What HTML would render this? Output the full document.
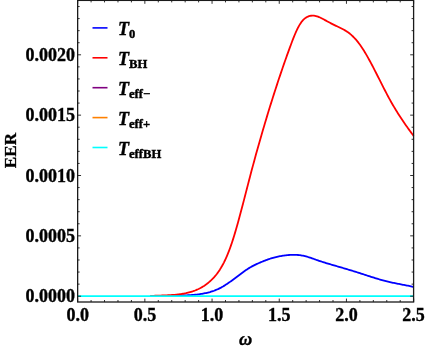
<!DOCTYPE html>
<html><head><meta charset="utf-8"><style>
html,body{margin:0;padding:0;background:#fff;}
svg{display:block;will-change:transform;font-family:"Liberation Serif",serif;font-weight:bold;}
</style></head><body>
<svg width="426" height="350" viewBox="0 0 426 350">
<rect width="426" height="350" fill="#fff"/>
<path d="M165.0,296.05 L166.0,295.99 L167.0,295.94 L168.0,295.90 L169.0,295.86 L170.0,295.82 L171.0,295.78 L172.0,295.75 L173.0,295.72 L174.0,295.70 L175.0,295.67 L176.0,295.65 L177.0,295.62 L178.0,295.60 L179.0,295.57 L180.0,295.55 L181.0,295.52 L182.0,295.49 L183.0,295.46 L184.0,295.43 L185.0,295.39 L186.0,295.35 L187.0,295.30 L188.0,295.25 L189.0,295.20 L190.0,295.14 L191.0,295.07 L192.0,295.00 L193.0,294.92 L194.0,294.83 L195.0,294.74 L196.0,294.63 L197.0,294.52 L198.0,294.40 L199.0,294.27 L200.0,294.12 L201.0,293.97 L202.0,293.81 L203.0,293.63 L204.0,293.44 L205.0,293.24 L206.0,293.03 L207.0,292.80 L208.0,292.56 L209.0,292.30 L210.0,292.03 L211.0,291.73 L212.0,291.42 L213.0,291.09 L214.0,290.74 L215.0,290.36 L216.0,289.96 L217.0,289.54 L218.0,289.10 L219.0,288.62 L220.0,288.12 L221.0,287.60 L222.0,287.04 L223.0,286.47 L224.0,285.87 L225.0,285.24 L226.0,284.60 L227.0,283.94 L228.0,283.26 L229.0,282.57 L230.0,281.86 L231.0,281.15 L232.0,280.42 L233.0,279.68 L234.0,278.93 L235.0,278.18 L236.0,277.43 L237.0,276.67 L238.0,275.91 L239.0,275.16 L240.0,274.41 L241.0,273.66 L242.0,272.92 L243.0,272.19 L244.0,271.48 L245.0,270.77 L246.0,270.09 L247.0,269.41 L248.0,268.76 L249.0,268.13 L250.0,267.53 L251.0,266.95 L252.0,266.39 L253.0,265.85 L254.0,265.34 L255.0,264.84 L256.0,264.36 L257.0,263.90 L258.0,263.45 L259.0,263.01 L260.0,262.59 L261.0,262.17 L262.0,261.76 L263.0,261.36 L264.0,260.96 L265.0,260.57 L266.0,260.19 L267.0,259.82 L268.0,259.45 L269.0,259.10 L270.0,258.77 L271.0,258.44 L272.0,258.13 L273.0,257.83 L274.0,257.55 L275.0,257.29 L276.0,257.04 L277.0,256.81 L278.0,256.59 L279.0,256.39 L280.0,256.20 L281.0,256.02 L282.0,255.85 L283.0,255.70 L284.0,255.56 L285.0,255.43 L286.0,255.31 L287.0,255.20 L288.0,255.10 L289.0,255.01 L290.0,254.93 L291.0,254.87 L292.0,254.83 L293.0,254.80 L294.0,254.80 L295.0,254.81 L296.0,254.85 L297.0,254.90 L298.0,254.99 L299.0,255.09 L300.0,255.22 L301.0,255.37 L302.0,255.54 L303.0,255.73 L304.0,255.94 L305.0,256.18 L306.0,256.43 L307.0,256.71 L308.0,257.00 L309.0,257.31 L310.0,257.63 L311.0,257.97 L312.0,258.31 L313.0,258.66 L314.0,259.01 L315.0,259.37 L316.0,259.73 L317.0,260.08 L318.0,260.43 L319.0,260.78 L320.0,261.11 L321.0,261.44 L322.0,261.77 L323.0,262.09 L324.0,262.40 L325.0,262.71 L326.0,263.02 L327.0,263.32 L328.0,263.62 L329.0,263.92 L330.0,264.21 L331.0,264.51 L332.0,264.80 L333.0,265.09 L334.0,265.38 L335.0,265.67 L336.0,265.96 L337.0,266.25 L338.0,266.54 L339.0,266.83 L340.0,267.13 L341.0,267.42 L342.0,267.71 L343.0,268.01 L344.0,268.30 L345.0,268.60 L346.0,268.90 L347.0,269.20 L348.0,269.50 L349.0,269.80 L350.0,270.10 L351.0,270.40 L352.0,270.71 L353.0,271.01 L354.0,271.32 L355.0,271.63 L356.0,271.94 L357.0,272.26 L358.0,272.57 L359.0,272.89 L360.0,273.21 L361.0,273.53 L362.0,273.85 L363.0,274.18 L364.0,274.50 L365.0,274.83 L366.0,275.15 L367.0,275.48 L368.0,275.81 L369.0,276.13 L370.0,276.45 L371.0,276.78 L372.0,277.10 L373.0,277.41 L374.0,277.73 L375.0,278.04 L376.0,278.35 L377.0,278.65 L378.0,278.95 L379.0,279.25 L380.0,279.54 L381.0,279.82 L382.0,280.10 L383.0,280.37 L384.0,280.64 L385.0,280.90 L386.0,281.15 L387.0,281.40 L388.0,281.64 L389.0,281.88 L390.0,282.10 L391.0,282.33 L392.0,282.55 L393.0,282.76 L394.0,282.97 L395.0,283.18 L396.0,283.38 L397.0,283.58 L398.0,283.78 L399.0,283.98 L400.0,284.18 L401.0,284.37 L402.0,284.57 L403.0,284.76 L404.0,284.95 L405.0,285.15 L406.0,285.34 L407.0,285.54 L408.0,285.74 L409.0,285.94 L410.0,286.14 L411.0,286.35 L412.0,286.56 L413.0,286.77 L413.6,286.90" fill="none" stroke="#0000ff" stroke-width="1.8" stroke-linejoin="round"/>
<path d="M150.0,296.09 L151.0,296.01 L152.0,295.94 L153.0,295.88 L154.0,295.83 L155.0,295.77 L156.0,295.73 L157.0,295.68 L158.0,295.64 L159.0,295.60 L160.0,295.56 L161.0,295.53 L162.0,295.49 L163.0,295.46 L164.0,295.42 L165.0,295.38 L166.0,295.34 L167.0,295.30 L168.0,295.25 L169.0,295.20 L170.0,295.15 L171.0,295.09 L172.0,295.02 L173.0,294.95 L174.0,294.87 L175.0,294.79 L176.0,294.69 L177.0,294.59 L178.0,294.48 L179.0,294.35 L180.0,294.22 L181.0,294.08 L182.0,293.92 L183.0,293.75 L184.0,293.57 L185.0,293.37 L186.0,293.17 L187.0,292.94 L188.0,292.70 L189.0,292.44 L190.0,292.17 L191.0,291.88 L192.0,291.57 L193.0,291.24 L194.0,290.89 L195.0,290.52 L196.0,290.12 L197.0,289.69 L198.0,289.25 L199.0,288.77 L200.0,288.26 L201.0,287.72 L202.0,287.16 L203.0,286.55 L204.0,285.92 L205.0,285.25 L206.0,284.54 L207.0,283.79 L208.0,283.00 L209.0,282.17 L210.0,281.30 L211.0,280.39 L212.0,279.43 L213.0,278.41 L214.0,277.34 L215.0,276.20 L216.0,274.99 L217.0,273.71 L218.0,272.36 L219.0,270.91 L220.0,269.39 L221.0,267.77 L222.0,266.05 L223.0,264.23 L224.0,262.30 L225.0,260.26 L226.0,258.10 L227.0,255.82 L228.0,253.41 L229.0,250.87 L230.0,248.19 L231.0,245.38 L232.0,242.43 L233.0,239.35 L234.0,236.17 L235.0,232.87 L236.0,229.48 L237.0,225.99 L238.0,222.43 L239.0,218.80 L240.0,215.10 L241.0,211.35 L242.0,207.56 L243.0,203.73 L244.0,199.87 L245.0,196.00 L246.0,192.11 L247.0,188.23 L248.0,184.35 L249.0,180.49 L250.0,176.66 L251.0,172.85 L252.0,169.09 L253.0,165.36 L254.0,161.66 L255.0,157.99 L256.0,154.36 L257.0,150.76 L258.0,147.18 L259.0,143.64 L260.0,140.13 L261.0,136.65 L262.0,133.20 L263.0,129.78 L264.0,126.39 L265.0,123.02 L266.0,119.68 L267.0,116.37 L268.0,113.08 L269.0,109.82 L270.0,106.58 L271.0,103.37 L272.0,100.18 L273.0,97.02 L274.0,93.88 L275.0,90.77 L276.0,87.68 L277.0,84.62 L278.0,81.58 L279.0,78.57 L280.0,75.59 L281.0,72.63 L282.0,69.69 L283.0,66.78 L284.0,63.90 L285.0,61.04 L286.0,58.21 L287.0,55.40 L288.0,52.62 L289.0,49.86 L290.0,47.14 L291.0,44.44 L292.0,41.78 L293.0,39.19 L294.0,36.67 L295.0,34.25 L296.0,31.94 L297.0,29.75 L298.0,27.71 L299.0,25.84 L300.0,24.14 L301.0,22.64 L302.0,21.32 L303.0,20.17 L304.0,19.18 L305.0,18.34 L306.0,17.63 L307.0,17.04 L308.0,16.57 L309.0,16.20 L310.0,15.92 L311.0,15.73 L312.0,15.63 L313.0,15.61 L314.0,15.67 L315.0,15.81 L316.0,16.03 L317.0,16.31 L318.0,16.65 L319.0,17.05 L320.0,17.50 L321.0,17.98 L322.0,18.49 L323.0,19.02 L324.0,19.56 L325.0,20.11 L326.0,20.65 L327.0,21.20 L328.0,21.75 L329.0,22.29 L330.0,22.83 L331.0,23.36 L332.0,23.87 L333.0,24.37 L334.0,24.86 L335.0,25.35 L336.0,25.82 L337.0,26.30 L338.0,26.77 L339.0,27.25 L340.0,27.74 L341.0,28.23 L342.0,28.73 L343.0,29.26 L344.0,29.80 L345.0,30.38 L346.0,30.98 L347.0,31.62 L348.0,32.31 L349.0,33.04 L350.0,33.82 L351.0,34.66 L352.0,35.55 L353.0,36.50 L354.0,37.51 L355.0,38.58 L356.0,39.71 L357.0,40.89 L358.0,42.13 L359.0,43.44 L360.0,44.80 L361.0,46.23 L362.0,47.71 L363.0,49.25 L364.0,50.84 L365.0,52.48 L366.0,54.16 L367.0,55.88 L368.0,57.65 L369.0,59.45 L370.0,61.28 L371.0,63.14 L372.0,65.03 L373.0,66.94 L374.0,68.87 L375.0,70.81 L376.0,72.77 L377.0,74.74 L378.0,76.72 L379.0,78.70 L380.0,80.69 L381.0,82.67 L382.0,84.65 L383.0,86.61 L384.0,88.57 L385.0,90.52 L386.0,92.44 L387.0,94.35 L388.0,96.23 L389.0,98.08 L390.0,99.91 L391.0,101.70 L392.0,103.46 L393.0,105.19 L394.0,106.89 L395.0,108.57 L396.0,110.21 L397.0,111.83 L398.0,113.43 L399.0,115.00 L400.0,116.54 L401.0,118.07 L402.0,119.57 L403.0,121.06 L404.0,122.53 L405.0,123.97 L406.0,125.41 L407.0,126.83 L408.0,128.23 L409.0,129.62 L410.0,131.00 L411.0,132.37 L412.0,133.73 L413.0,135.08 L413.6,135.89" fill="none" stroke="#ff0000" stroke-width="1.8" stroke-linejoin="round"/>
<path d="M77.65,296.15 H413.6" stroke="#00ffff" stroke-width="1.8" fill="none"/>
<rect x="77.65" y="0.4" width="335.95000000000005" height="301.6" fill="none" stroke="#1a1a1a" stroke-width="1.3"/>
<path d="M77.65,302.0 v-3.4 M77.65,0.4 v3.4 M91.09,302.0 v-2.0 M91.09,0.4 v2.0 M104.53,302.0 v-2.0 M104.53,0.4 v2.0 M117.97,302.0 v-2.0 M117.97,0.4 v2.0 M131.41,302.0 v-2.0 M131.41,0.4 v2.0 M144.85,302.0 v-3.4 M144.85,0.4 v3.4 M158.29,302.0 v-2.0 M158.29,0.4 v2.0 M171.73,302.0 v-2.0 M171.73,0.4 v2.0 M185.17,302.0 v-2.0 M185.17,0.4 v2.0 M198.61,302.0 v-2.0 M198.61,0.4 v2.0 M212.05,302.0 v-3.4 M212.05,0.4 v3.4 M225.49,302.0 v-2.0 M225.49,0.4 v2.0 M238.93,302.0 v-2.0 M238.93,0.4 v2.0 M252.37,302.0 v-2.0 M252.37,0.4 v2.0 M265.81,302.0 v-2.0 M265.81,0.4 v2.0 M279.25,302.0 v-3.4 M279.25,0.4 v3.4 M292.69,302.0 v-2.0 M292.69,0.4 v2.0 M306.13,302.0 v-2.0 M306.13,0.4 v2.0 M319.57,302.0 v-2.0 M319.57,0.4 v2.0 M333.01,302.0 v-2.0 M333.01,0.4 v2.0 M346.45,302.0 v-3.4 M346.45,0.4 v3.4 M359.89,302.0 v-2.0 M359.89,0.4 v2.0 M373.33,302.0 v-2.0 M373.33,0.4 v2.0 M386.77,302.0 v-2.0 M386.77,0.4 v2.0 M400.21,302.0 v-2.0 M400.21,0.4 v2.0 M413.65,302.0 v-3.4 M413.65,0.4 v3.4 M77.65,296.20 h3.4 M413.6,296.20 h-3.4 M77.65,284.13 h2.0 M413.6,284.13 h-2.0 M77.65,272.06 h2.0 M413.6,272.06 h-2.0 M77.65,259.99 h2.0 M413.6,259.99 h-2.0 M77.65,247.92 h2.0 M413.6,247.92 h-2.0 M77.65,235.85 h3.4 M413.6,235.85 h-3.4 M77.65,223.78 h2.0 M413.6,223.78 h-2.0 M77.65,211.71 h2.0 M413.6,211.71 h-2.0 M77.65,199.64 h2.0 M413.6,199.64 h-2.0 M77.65,187.57 h2.0 M413.6,187.57 h-2.0 M77.65,175.50 h3.4 M413.6,175.50 h-3.4 M77.65,163.43 h2.0 M413.6,163.43 h-2.0 M77.65,151.36 h2.0 M413.6,151.36 h-2.0 M77.65,139.29 h2.0 M413.6,139.29 h-2.0 M77.65,127.22 h2.0 M413.6,127.22 h-2.0 M77.65,115.15 h3.4 M413.6,115.15 h-3.4 M77.65,103.08 h2.0 M413.6,103.08 h-2.0 M77.65,91.01 h2.0 M413.6,91.01 h-2.0 M77.65,78.94 h2.0 M413.6,78.94 h-2.0 M77.65,66.87 h2.0 M413.6,66.87 h-2.0 M77.65,54.80 h3.4 M413.6,54.80 h-3.4 M77.65,42.73 h2.0 M413.6,42.73 h-2.0 M77.65,30.66 h2.0 M413.6,30.66 h-2.0 M77.65,18.59 h2.0 M413.6,18.59 h-2.0 M77.65,6.52 h2.0 M413.6,6.52 h-2.0" stroke="#1a1a1a" stroke-width="0.9" fill="none"/>
<g font-size="18" fill="#000" stroke="#000" stroke-width="0.35"><text x="77.7" y="321" text-anchor="middle">0.0</text><text x="144.9" y="321" text-anchor="middle">0.5</text><text x="212.1" y="321" text-anchor="middle">1.0</text><text x="279.2" y="321" text-anchor="middle">1.5</text><text x="346.5" y="321" text-anchor="middle">2.0</text><text x="413.6" y="321" text-anchor="middle">2.5</text><text x="75.0" y="302.2" text-anchor="end">0.0000</text><text x="75.0" y="241.8" text-anchor="end">0.0005</text><text x="75.0" y="181.5" text-anchor="end">0.0010</text><text x="75.0" y="121.1" text-anchor="end">0.0015</text><text x="75.0" y="60.8" text-anchor="end">0.0020</text></g>
<g fill="#000" stroke="#000" stroke-width="0.4"><path d="M92.5,27.9 H107.5" stroke="#0000ff" stroke-width="1.6" fill="none"/><text x="118" y="34.9" font-style="italic" font-size="18">T<tspan font-style="normal" font-size="12.6" dy="3.1">0</tspan></text><path d="M92.5,57.8 H107.5" stroke="#ff0000" stroke-width="1.6" fill="none"/><text x="118" y="64.8" font-style="italic" font-size="18">T<tspan font-style="normal" font-size="12.6" dy="3.1">BH</tspan></text><path d="M92.5,87.7 H107.5" stroke="#800080" stroke-width="1.6" fill="none"/><text x="118" y="94.7" font-style="italic" font-size="18">T<tspan font-style="normal" font-size="12.6" dy="3.1">eff−</tspan></text><path d="M92.5,117.6 H107.5" stroke="#ff8000" stroke-width="1.6" fill="none"/><text x="118" y="124.6" font-style="italic" font-size="18">T<tspan font-style="normal" font-size="12.6" dy="3.1">eff+</tspan></text><path d="M92.5,147.5 H107.5" stroke="#00ffff" stroke-width="1.6" fill="none"/><text x="118" y="154.5" font-style="italic" font-size="18">T<tspan font-style="normal" font-size="12.6" dy="3.1">effBH</tspan></text></g>
<text transform="translate(16.2,150.5) rotate(-90)" text-anchor="middle" font-size="17.2" fill="#000" stroke="#000" stroke-width="0.3">EER</text>
<text x="245.7" y="345" text-anchor="middle" font-size="18.3" font-style="italic" fill="#000" stroke="#000" stroke-width="0.4">ω</text>
</svg>
</body></html>
